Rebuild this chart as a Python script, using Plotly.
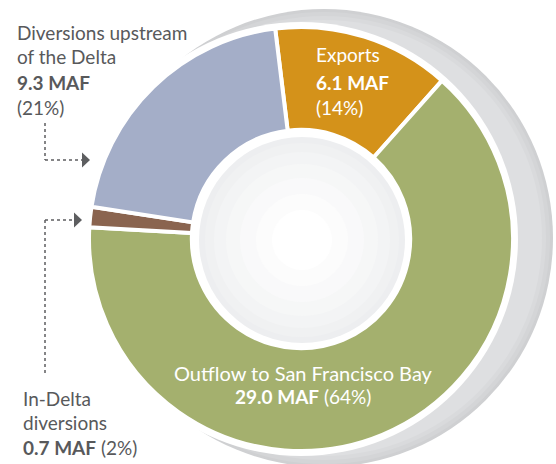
import plotly.graph_objects as go

W, H = 556, 464

labels = ["Exports", "Outflow to San Francisco Bay", "In-Delta diversions", "Diversions upstream of the Delta"]
values = [6.1, 29.0, 0.7, 9.3]
percents = ["14%", "64%", "2%", "21%"]
colors = ["#d4921a", "#a4b06e", "#8a644f", "#a4aec8"]

FONT = "Lato"
TXT = "#58595b"

def px(x):
    return x / W

def py(y):
    return 1 - y / H

def circle(cx, cy, r, color):
    return dict(type="circle", xref="paper", yref="paper",
                x0=px(cx - r), x1=px(cx + r), y0=py(cy + r), y1=py(cy - r),
                fillcolor=color, line=dict(width=0), layer="below")

CX, CY, R = 301, 239, 212

shapes = []
# shadow ring (gray, offset right)
gray_steps = [(229, "#cfd0d2"), (226, "#d4d5d7"), (222, "#d9dadc"), (218, "#dedfe1")]
for r, c in gray_steps:
    shapes.append(circle(324, 238, r, c))
# white halo behind the donut
shapes.append(circle(CX, CY, 217, "#ffffff"))
# inner gradient disc
inner_steps = [(103, "#edeef0"), (97, "#f0f1f2"), (88, "#f3f4f5"), (76, "#f6f7f7"),
               (62, "#f9f9fa"), (46, "#fcfcfc"), (30, "#ffffff")]
for r, c in inner_steps:
    shapes.append(circle(302, 240, r, c))

# dotted leader lines
LC = "#5d5e60"
def seg(x0, y0, x1, y1):
    return dict(type="line", xref="paper", yref="paper",
                x0=px(x0), y0=py(y0), x1=px(x1), y1=py(y1),
                line=dict(color=LC, width=1.5, dash="dot"), layer="above")

def tri(xl, yc, w, h):
    p = f"M {px(xl)} {py(yc - h/2)} L {px(xl + w)} {py(yc)} L {px(xl)} {py(yc + h/2)} Z"
    return dict(type="path", xref="paper", yref="paper", path=p,
                fillcolor=LC, line=dict(width=0), layer="above")

shapes += [seg(45, 123, 45, 160), seg(45, 160, 82, 160), tri(82, 160, 8, 15),
           seg(45, 373, 45, 220), seg(45, 220, 74, 220), tri(74, 220, 8, 15)]

fig = go.Figure(go.Pie(
    labels=labels, values=values, sort=False, direction="clockwise",
    rotation=-7, hole=0.515, textinfo="none",
    marker=dict(colors=colors, line=dict(color="#ffffff", width=4)),
    domain=dict(x=[px(CX - R), px(CX + R)], y=[py(CY + R), py(CY - R)]),
    hovertemplate="%{label}: %{value} MAF<extra></extra>",
))

def ann(text, x, y, color=TXT, anchor="left", size=19):
    return dict(text=text, x=px(x), y=py(y), xref="paper", yref="paper",
                xanchor=anchor, yanchor="middle", showarrow=False,
                font=dict(family=FONT, size=size, color=color))

annotations = [
    ann("Diversions upstream", 15, 32),
    ann("of the Delta", 15, 57),
    ann(f"<b>{values[3]} MAF</b>", 15, 82),
    ann(f"({percents[3]})", 15, 107),
    ann("Exports", 314, 55, "#ffffff"),
    ann(f"<b>{values[0]} MAF</b>", 314, 82, "#ffffff"),
    ann(f"({percents[0]})", 314, 108, "#ffffff"),
    ann("Outflow to San Francisco Bay", 303, 373, "#ffffff", "center", 20),
    ann(f"<b>{values[1]:.1f} MAF</b> ({percents[1]})", 303, 396, "#ffffff", "center", 19),
    ann("In-Delta", 21, 398),
    ann("diversions", 21, 422),
    ann(f"<b>{values[2]} MAF</b> ({percents[2]})", 21, 447),
]

fig.update_layout(
    width=W, height=H, margin=dict(l=0, r=0, t=0, b=0),
    paper_bgcolor="#ffffff", plot_bgcolor="#ffffff",
    showlegend=False, shapes=shapes, annotations=annotations,
)

fig.write_html("out.html", config={"displayModeBar": False},
               post_script="document.body.style.margin='0';document.body.style.overflow='hidden';")
